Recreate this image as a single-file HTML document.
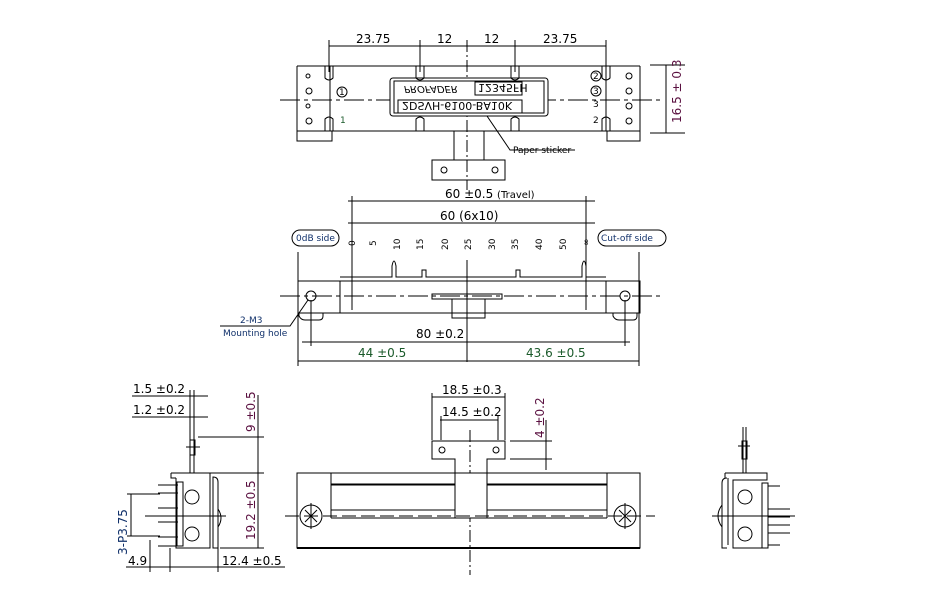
<!DOCTYPE html>
<html><head><meta charset="utf-8"><style>
html,body{margin:0;padding:0;background:#fff}
svg{display:block}
text{font-family:"DejaVu Sans","Liberation Sans",sans-serif;fill:#000}
.t{font-size:12px}
.s{font-size:9px}
.g{fill:#1a5a2a}
.b{fill:#10306a}
.m{fill:#5a1040}
</style></head><body>
<svg width="933" height="606" viewBox="0 0 933 606" xmlns="http://www.w3.org/2000/svg" stroke="#000" stroke-width="1" fill="none">
<!-- ===== TOP VIEW ===== -->
<g>
<line x1="329" y1="46" x2="606" y2="46"/>
<line x1="329" y1="40" x2="329" y2="72"/><line x1="420" y1="40" x2="420" y2="72"/>
<line x1="467" y1="40" x2="467" y2="190" stroke-dasharray="12,3,2,3"/>
<line x1="515" y1="40" x2="515" y2="72"/><line x1="606" y1="40" x2="606" y2="72"/>
<text class="t" x="356" y="43" stroke="none">23.75</text>
<text class="t" x="437" y="43" stroke="none">12</text>
<text class="t" x="484" y="43" stroke="none">12</text>
<text class="t" x="543" y="43" stroke="none">23.75</text>
<path d="M297 66 H640 M297 131 H640 M297 66 V131 M640 66 V131"/>
<path d="M330 66 V131 M606 66 V131"/>
<rect x="297" y="131" width="35" height="10"/><rect x="607" y="131" width="33" height="10"/>
<line x1="280" y1="100" x2="660" y2="100" stroke-dasharray="20,4,4,4"/>
<rect x="390" y="78" width="158" height="38" rx="3" fill="#fff"/>
<rect x="394" y="81" width="150" height="32"/>
<rect x="475" y="82" width="47" height="13"/>
<rect x="398" y="100" width="124" height="13"/>
<g transform="translate(0,192) scale(1,-1)" stroke="none">
<text x="478" y="108" style="font-size:11px">12345FH</text>
<text x="402" y="90" style="font-size:11px">2DSVH-6100-BA10K</text>
<text x="404" y="106" style="font-size:10px;font-style:italic">PROFADER</text>
</g>
<circle cx="342" cy="92" r="5"/><text class="s" x="339" y="95" stroke="none">1</text>
<text class="s g" x="340" y="123" stroke="none">1</text>
<circle cx="596" cy="76" r="5"/><text class="s" x="593" y="79" stroke="none">2</text>
<circle cx="596" cy="91" r="5"/><text class="s" x="593" y="94" stroke="none">3</text>
<text class="s" x="593" y="107" stroke="none">3</text>
<text class="s" x="593" y="123" stroke="none">2</text>
<path d="M325 66 v12 q4 4 8 0 v-12 M416 66 v12 q4 4 8 0 v-12 M511 66 v12 q4 4 8 0 v-12 M602 66 v12 q4 4 8 0 v-12"/>
<path d="M325 131 v-12 q4 -4 8 0 v12 M416 131 v-12 q4 -4 8 0 v12 M511 131 v-12 q4 -4 8 0 v12 M602 131 v-12 q4 -4 8 0 v12"/>
<circle cx="308" cy="76" r="2"/><circle cx="308" cy="106" r="2"/>
<circle cx="309" cy="91" r="3"/><circle cx="309" cy="121" r="3"/>
<circle cx="629" cy="76" r="3"/><circle cx="629" cy="91" r="3"/><circle cx="629" cy="106" r="3"/><circle cx="629" cy="121" r="3"/>
<path d="M454 131 V160 M484 131 V160 M432 160 H505 V180 H432 Z"/>
<circle cx="444" cy="170" r="3"/><circle cx="495" cy="170" r="3"/>
<path d="M487 116 L510 150 H575"/>
<text class="s" x="513" y="153" stroke="none">Paper sticker</text>
<line x1="650" y1="65" x2="685" y2="65"/><line x1="650" y1="133" x2="685" y2="133"/>
<line x1="666" y1="65" x2="666" y2="133"/>
<text class="t m" transform="translate(681,123) rotate(-90)" stroke="none">16.5 ± 0.3</text>
</g>
<!-- ===== MIDDLE VIEW ===== -->
<g>
<line x1="348" y1="201" x2="595" y2="201"/>
<line x1="348" y1="223" x2="595" y2="223"/>
<line x1="352" y1="196" x2="352" y2="310"/><line x1="586" y1="196" x2="586" y2="310"/>
<text class="t" x="445" y="198" stroke="none">60 ±0.5 <tspan style="font-size:10px">(Travel)</tspan></text>
<text class="t" x="440" y="220" stroke="none">60 (6x10)</text>
<g class="s" stroke="none">
<text transform="translate(355,246) rotate(-90)">0</text>
<text transform="translate(376,246) rotate(-90)">5</text>
<text transform="translate(400,250) rotate(-90)">10</text>
<text transform="translate(423,250) rotate(-90)">15</text>
<text transform="translate(448,250) rotate(-90)">20</text>
<text transform="translate(471,250) rotate(-90)">25</text>
<text transform="translate(495,250) rotate(-90)">30</text>
<text transform="translate(518,250) rotate(-90)">35</text>
<text transform="translate(542,250) rotate(-90)">40</text>
<text transform="translate(566,250) rotate(-90)">50</text>
<text transform="translate(589,246) rotate(-90)">∞</text>
</g>
<rect x="292" y="230" width="47" height="16" rx="8"/>
<text class="s b" x="296" y="241" stroke="none">0dB side</text>
<rect x="598" y="230" width="68" height="16" rx="8"/>
<text class="s b" x="601" y="241" stroke="none">Cut-off side</text>
<path d="M298 281 H640 V313 H298 Z"/>
<line x1="298" y1="252" x2="298" y2="313"/><line x1="639" y1="252" x2="639" y2="313"/>
<path d="M340 281 V313 M606 281 V313"/>
<path d="M340 277 H392 V266 Q394 256 396 266 V277 H422 V270 H426 V277 H516 V270 H520 V277 H582 V266 Q584 256 586 266 V277 H606"/>
<line x1="467" y1="260" x2="467" y2="362"/>
<line x1="280" y1="296" x2="660" y2="296" stroke-dasharray="20,4,4,4"/>
<rect x="432" y="294" width="70" height="5"/>
<rect x="452" y="299" width="33" height="19"/>
<circle cx="311" cy="296" r="5"/><circle cx="625" cy="296" r="5"/>
<path d="M299 313 v3 q2 4 6 4 h14 q4 0 4 -4 v-3 M613 313 v3 q2 4 6 4 h14 q4 0 4 -4 v-3"/>
<path d="M308 300 L290 326 H220"/>
<text class="s b" x="240" y="323" stroke="none">2-M3</text>
<text class="s b" x="223" y="336" stroke="none">Mounting hole</text>
<line x1="311" y1="300" x2="311" y2="346"/><line x1="625" y1="300" x2="625" y2="346"/>
<line x1="298" y1="313" x2="298" y2="366"/><line x1="639" y1="313" x2="639" y2="366"/>
<line x1="302" y1="342" x2="630" y2="342"/>
<line x1="298" y1="361" x2="639" y2="361"/>
<text class="t" x="416" y="338" stroke="none">80 ±0.2</text>
<text class="t g" x="358" y="357" stroke="none">44 ±0.5</text>
<text class="t g" x="526" y="357" stroke="none">43.6 ±0.5</text>
</g>
<!-- ===== BOTTOM FRONT VIEW ===== -->
<g>
<line x1="432" y1="397" x2="505" y2="397"/><line x1="432" y1="393" x2="432" y2="440"/><line x1="505" y1="393" x2="505" y2="440"/>
<line x1="440" y1="420" x2="498" y2="420"/><line x1="441" y1="416" x2="441" y2="440"/><line x1="498" y1="416" x2="498" y2="440"/>
<text class="t" x="442" y="394" stroke="none">18.5 ±0.3</text>
<text class="t" x="442" y="416" stroke="none">14.5 ±0.2</text>
<text class="t m" transform="translate(544,438) rotate(-90)" stroke="none">4 ±0.2</text>
<line x1="510" y1="441" x2="552" y2="441"/><line x1="510" y1="459" x2="552" y2="459"/><line x1="546" y1="420" x2="546" y2="470"/>
<path d="M432 441 H505 V459 H487 V473 H455 V459 H432 Z"/>
<circle cx="442" cy="450" r="3"/><circle cx="496" cy="450" r="3"/>
<line x1="470" y1="430" x2="470" y2="575" stroke-dasharray="12,3,2,3"/>
<path d="M297 473 H640 V548 H297 Z"/>
<path d="M331 473 V518 M607 473 V518 M331 484 H607 M331 510 H607 M331 518 H607"/>
<path d="M331 484.5 H607" stroke-width="2"/>
<path d="M297 548 H640" stroke-width="2"/>
<rect x="455" y="473" width="32" height="45" fill="#fff"/>
<line x1="285" y1="516" x2="655" y2="516" stroke-dasharray="14,5"/>
<circle cx="311" cy="516" r="11"/><circle cx="625" cy="516" r="11"/>
<path d="M305 510 l12 12 M317 510 l-12 12 M619 510 l12 12 M631 510 l-12 12 M311 503 v26 M625 503 v26"/>
</g>
<!-- ===== LEFT SIDE VIEW ===== -->
<g>
<line x1="132" y1="396" x2="208" y2="396"/><line x1="132" y1="417" x2="208" y2="417"/>
<line x1="190" y1="390" x2="190" y2="473"/><line x1="194" y1="390" x2="194" y2="473"/>
<text class="t" x="133" y="393" stroke="none">1.5 ±0.2</text>
<text class="t" x="133" y="414" stroke="none">1.2 ±0.2</text>
<rect x="190" y="440" width="5" height="15"/><line x1="186" y1="447" x2="200" y2="447"/>
<line x1="198" y1="437" x2="264" y2="437"/><line x1="198" y1="473" x2="264" y2="473"/>
<line x1="258" y1="395" x2="258" y2="548"/><line x1="220" y1="548" x2="264" y2="548"/>
<text class="t m" transform="translate(255,432) rotate(-90)" stroke="none">9 ±0.5</text>
<text class="t m" transform="translate(255,540) rotate(-90)" stroke="none">19.2 ±0.5</text>
<path d="M171 473 H210 V548 H176 V478 M171 473 V478 H176"/>
<path d="M213 477 Q218 477 218 482 V548 H213 Z"/>
<path d="M218 509 q6 9 0 18"/>
<circle cx="192" cy="497" r="7"/><circle cx="192" cy="534" r="7"/>
<path d="M158 485 H178 M158 493 H178 M158 508 H178 M158 522 H178 M158 537 H178 M158 546 H178"/>
<rect x="177" y="482" width="6" height="64"/>
<line x1="145" y1="516" x2="226" y2="516"/>
<line x1="127" y1="494" x2="160" y2="494"/><line x1="127" y1="536" x2="160" y2="536"/>
<line x1="131" y1="494" x2="131" y2="536"/>
<text class="t b" transform="translate(127,555) rotate(-90)" stroke="none">3-P3.75</text>
<line x1="150" y1="540" x2="150" y2="572"/><line x1="170" y1="548" x2="170" y2="572"/>
<line x1="218" y1="548" x2="218" y2="572"/>
<line x1="126" y1="567" x2="285" y2="567"/>
<text class="t" x="128" y="565" stroke="none">4.9</text>
<text class="t" x="222" y="565" stroke="none">12.4 ±0.5</text>
</g>
<!-- ===== RIGHT SIDE VIEW ===== -->
<g>
<line x1="743" y1="427" x2="743" y2="473"/><line x1="746" y1="427" x2="746" y2="473"/>
<rect x="742" y="441" width="5" height="18"/><line x1="738" y1="446" x2="750" y2="446"/>
<path d="M725 473 H767 V480 H733 V548 H762 M728 478 V545 M725 473 V478"/>
<path d="M727 478 Q722 478 722 483 V548 H727"/>
<path d="M722 505 q-8 11 0 22"/>
<circle cx="745" cy="497" r="7"/><circle cx="745" cy="534" r="7"/>
<rect x="762" y="483" width="6" height="65"/>
<path d="M768 509 H790 M768 517 H790 M768 525 H790 M768 533 H790 M768 486 H780 M768 545 H780"/>
<line x1="712" y1="516" x2="795" y2="516"/>
</g>
</svg>
</body></html>
